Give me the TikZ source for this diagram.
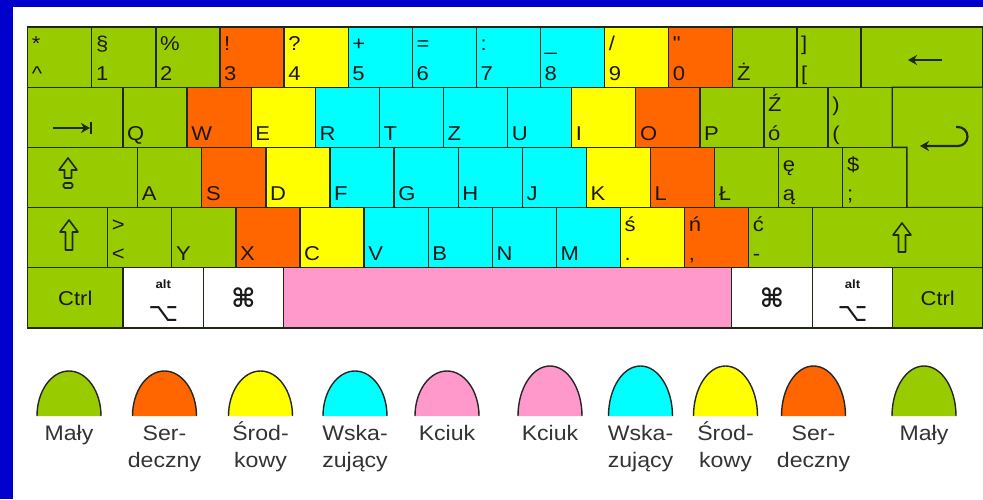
\documentclass[tikz,border=0pt]{standalone}
\usepackage{fontspec}
\setmainfont{Liberation Sans}[FakeStretch=1.1]
\newfontfamily\symfont{DejaVu Sans}
\usepackage{tikz}
\usetikzlibrary{positioning, arrows.meta}
\usepackage{xcolor}
\definecolor{FingerGreen}{RGB}{153, 204, 0}
\definecolor{FingerOrange}{RGB}{255, 102, 0}
\definecolor{FingerYellow}{RGB}{255, 255, 0}
\definecolor{FingerCyan}{RGB}{0, 255, 255}
\definecolor{FingerPink}{RGB}{255, 153, 204}
\definecolor{FrameBlue}{RGB}{0, 0, 204}
\definecolor{KeyLine}{RGB}{30, 40, 20}

\begin{document}
\begin{tikzpicture}[
            x=1pt, y=1pt,
            key/.style={
                draw=KeyLine, line width=1.3pt, anchor=north west,
                minimum width=64.1pt, minimum height=60.2pt,
                inner sep=0pt, outer sep=0pt
            },
            keytxt/.style={anchor=base west, inner sep=0pt, text=black!90,
                font=\fontsize{20}{24}\selectfont},
            captxt/.style={inner sep=0pt, text=black!90, font=\fontsize{20}{24}\selectfont},
            alttxt/.style={inner sep=0pt, text=black!90, font=\fontsize{12}{13}\selectfont\bfseries},
            symtxt/.style={inner sep=0pt, text=black!90, font=\symfont\fontsize{26}{28}\selectfont},
            symarrow/.style={line width=2.2pt, KeyLine, -{Stealth[length=9pt, width=10pt]}},
            legtxt/.style={anchor=north, align=center, inner sep=0pt, text=black!80,
                font=\fontsize{21}{27}\selectfont},
            domeline/.style={draw=black!85, line width=1.4pt},
            pics/shiftarrow/.style={code={
                \draw[line width=1.6pt, line join=round, KeyLine]
                    (-3.5,0) -- (-3.5,#1) -- (-9,#1) -- (0,#1+12) -- (9,#1)
                    -- (3.5,#1) -- (3.5,0) -- cycle;
            }}
        ]
            % Frame
            \useasboundingbox (0,0) rectangle (983,499);
            \fill[white] (0,0) rectangle (983,499);
            \fill[FrameBlue] (0,0) rectangle (13,499);
            \fill[FrameBlue] (0,492) rectangle (983,499);

            % Row 1 - digits
            \foreach \up/\lo/\col [count=\i] in {
                {*}/{\textasciicircum}/FingerGreen, §/1/FingerGreen, \%/2/FingerGreen,
                !/3/FingerOrange, ?/4/FingerYellow, +/5/FingerCyan, =/6/FingerCyan,
                :/7/FingerCyan, \_/8/FingerCyan, {/}/9/FingerYellow, \textquotedbl/0/FingerOrange,
                {}/Ż/FingerGreen, {]}/{[}/FingerGreen} {
                \node[key, fill=\col] (ka\i) at ({27.7+(\i-1)*64.1}, 472) {};
                \node[keytxt] (lo-a\i) at ([shift={(4,7)}]ka\i.south west) {\lo};
                \node[keytxt] (up-a\i) at ([shift={(4,-24)}]ka\i.north west) {\up};
            }
            \node[key, fill=FingerGreen, minimum width=122pt, right=0pt of ka13] (bksp) {};
            \draw[symarrow] (942,439) -- (908,439);

            % Row 2 - QWERTZ
            \node[key, fill=FingerGreen, minimum width=95.3pt] (tab) at (27.7, 411.8) {};
            \draw[symarrow] (53,371) -- (90,371);
            \draw[line width=2.2pt, KeyLine] (91,365) -- (91,377);
            \foreach \up/\lo/\col [count=\i] in {
                {}/Q/FingerGreen, {}/W/FingerOrange, {}/E/FingerYellow,
                {}/R/FingerCyan, {}/T/FingerCyan, {}/Z/FingerCyan, {}/U/FingerCyan,
                {}/I/FingerYellow, {}/O/FingerOrange, {}/P/FingerGreen,
                Ź/ó/FingerGreen, )/(/FingerGreen} {
                \node[key, fill=\col] (kb\i) at ({123+(\i-1)*64.1}, 411.8) {};
                \node[keytxt] (lo-b\i) at ([shift={(4,7)}]kb\i.south west) {\lo};
                \node[keytxt] (up-b\i) at ([shift={(4,-24)}]kb\i.north west) {\up};
            }

            % Row 3 - home row
            \node[key, fill=FingerGreen, minimum width=110pt] (caps) at (27.7, 351.6) {};
            \pic at (68,321) {shiftarrow=8};
            \draw[line width=1.6pt, KeyLine, rounded corners=1.5pt] (63.5,311) rectangle (72.5,316);
            \foreach \up/\lo/\col [count=\i] in {
                {}/A/FingerGreen, {}/S/FingerOrange, {}/D/FingerYellow,
                {}/F/FingerCyan, {}/G/FingerCyan, {}/H/FingerCyan, {}/J/FingerCyan,
                {}/K/FingerYellow, {}/L/FingerOrange, {}/Ł/FingerGreen,
                ę/ą/FingerGreen, \$/;/FingerGreen} {
                \node[key, fill=\col] (kc\i) at ({137.7+(\i-1)*64.1}, 351.6) {};
                \node[keytxt] (lo-c\i) at ([shift={(4,7)}]kc\i.south west) {\lo};
                \node[keytxt] (up-c\i) at ([shift={(4,-24)}]kc\i.north west) {\up};
            }

            % Enter key - spans rows 2 and 3
            \draw[line width=1.3pt, draw=KeyLine, fill=FingerGreen]
                (kb12.north east) -- ++(90.8,0) |- (kc12.south east)
                -- (kc12.north east) -- (kb12.south east) -- cycle;
            \draw[symarrow] (956,372) -- (958,372) arc[start angle=90, end angle=-90, radius=9.5] -- (920,353);

            % Row 4 - bottom letters
            \node[key, fill=FingerGreen, minimum width=80pt] (shiftL) at (27.7, 291.4) {};
            \pic at (69,249) {shiftarrow=18};
            \foreach \up/\lo/\col [count=\i] in {
                >/</FingerGreen, {}/Y/FingerGreen, {}/X/FingerOrange, {}/C/FingerYellow,
                {}/V/FingerCyan, {}/B/FingerCyan, {}/N/FingerCyan, {}/M/FingerCyan,
                ś/./FingerYellow, ń/{,}/FingerOrange, ć/-/FingerGreen} {
                \node[key, fill=\col] (kd\i) at ({107.7+(\i-1)*64.1}, 291.4) {};
                \node[keytxt] (lo-d\i) at ([shift={(4,7)}]kd\i.south west) {\lo};
                \node[keytxt] (up-d\i) at ([shift={(4,-24)}]kd\i.north west) {\up};
            }
            \node[key, fill=FingerGreen, minimum width=170.2pt, right=0pt of kd11] (shiftR) {};
            \pic at (902,247) {shiftarrow=17};

            % Row 5 - modifiers and space bar
            \node[key, fill=FingerGreen, minimum width=95.3pt] (ctrlL) at (27.7, 231.2) {};
            \node[key, fill=white, minimum width=80.5pt, right=0pt of ctrlL] (altL) {};
            \node[key, fill=white, minimum width=80pt, right=0pt of altL] (cmdL) {};
            \node[key, fill=FingerPink, minimum width=448pt, right=0pt of cmdL] (space) {};
            \node[key, fill=white, minimum width=81pt, right=0pt of space] (cmdR) {};
            \node[key, fill=white, minimum width=80pt, right=0pt of cmdR] (altR) {};
            \node[key, fill=FingerGreen, minimum width=90.5pt, right=0pt of altR] (ctrlR) {};

            \node[captxt] (ctrlL-txt) at (ctrlL) {Ctrl};
            \node[captxt] (ctrlR-txt) at (ctrlR) {Ctrl};
            \node[symtxt, font=\symfont\bfseries\fontsize{26}{28}\selectfont] (cmdL-txt) at (cmdL) {⌘};
            \node[symtxt, font=\symfont\bfseries\fontsize{26}{28}\selectfont] (cmdR-txt) at (cmdR) {⌘};
            \node[alttxt] (altL-txt) at ([yshift=-16]altL.north) {alt};
            \node[alttxt] (altR-txt) at ([yshift=-16]altR.north) {alt};
            \node[symtxt] (altL-sym) at ([yshift=-46]altL.north) {⌥};
            \node[symtxt] (altR-sym) at ([yshift=-46]altR.north) {⌥};

            % Legend - left hand
            \foreach \cx/\col/\txt [count=\i] in {
                69/FingerGreen/Mały, 164.5/FingerOrange/{Ser-\\deczny},
                260.5/FingerYellow/{Środ-\\kowy}, 355/FingerCyan/{Wska-\\zujący},
                447/FingerPink/Kciuk} {
                \fill[\col] (\cx-32,83) arc[start angle=180, end angle=0, x radius=32, y radius=45] -- cycle;
                \draw[domeline] (\cx-32,83) arc[start angle=180, end angle=0, x radius=32, y radius=45];
                \node[legtxt] (lh\i) at (\cx, 81) {\rule{0pt}{22pt}\txt};
            }

            % Legend - right hand
            \foreach \cx/\col/\txt [count=\i] in {
                550/FingerPink/Kciuk, 640.5/FingerCyan/{Wska-\\zujący},
                725.5/FingerYellow/{Środ-\\kowy}, 813.5/FingerOrange/{Ser-\\deczny},
                924/FingerGreen/Mały} {
                \fill[\col] (\cx-32,83) arc[start angle=180, end angle=0, x radius=32, y radius=50] -- cycle;
                \draw[domeline] (\cx-32,83) arc[start angle=180, end angle=0, x radius=32, y radius=50];
                \node[legtxt] (rh\i) at (\cx, 81) {\rule{0pt}{22pt}\txt};
            }
        \end{tikzpicture}
\end{document}
